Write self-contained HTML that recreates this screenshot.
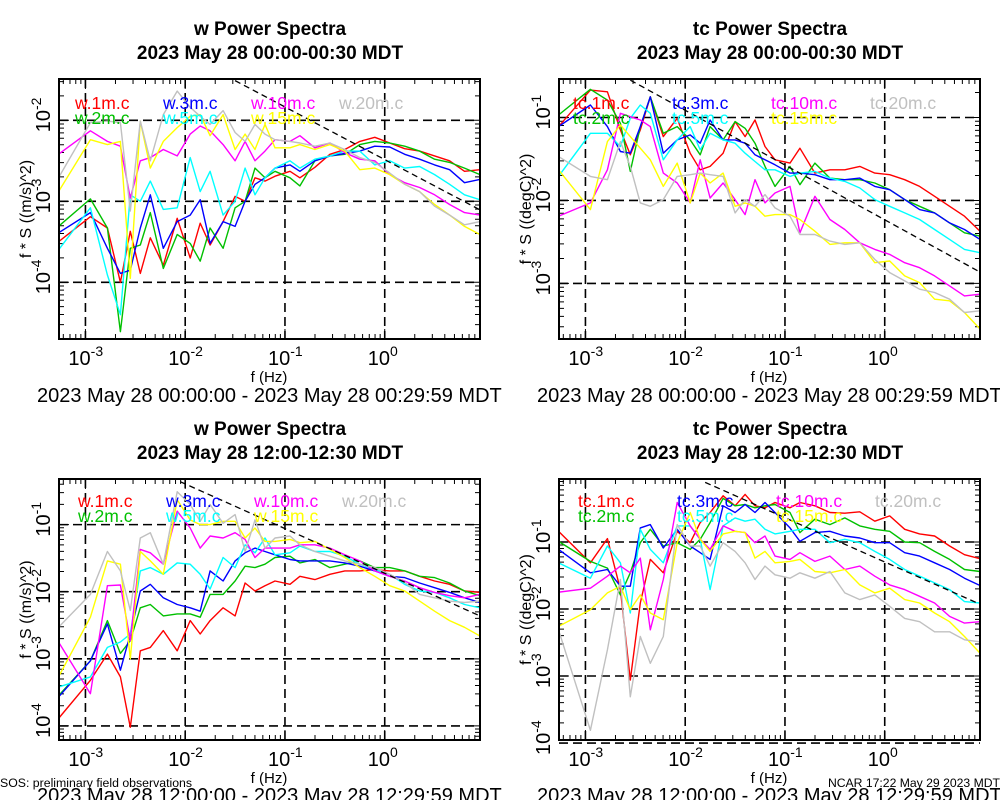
<!DOCTYPE html>
<html><head><meta charset="utf-8">
<style>
html,body{margin:0;padding:0;background:#fff;}
svg{display:block;font-family:"Liberation Sans",Arial,sans-serif;}
</style></head>
<body>
<svg id="fig" width="1000" height="800" viewBox="0 0 1000 800" xmlns="http://www.w3.org/2000/svg"></svg>
<script>
// shared frequency grid (log10 Hz)
const freqLog = [-3.27,-2.95,-2.78,-2.65,-2.55,-2.45,-2.35,-2.22,-2.08,-1.95,-1.85,-1.75,-1.62,-1.5,-1.4,-1.3,-1.2,-1.1,-0.95,-0.85,-0.7,-0.55,-0.4,-0.25,-0.1,0.05,0.2,0.35,0.5,0.65,0.8,0.955];
const seriesColors = ["#ff0000","#00c000","#0000ff","#00ffff","#ff00ff","#ffff00","#c0c0c0"];
const wNames = ["w.1m.c","w.2m.c","w.3m.c","w.5m.c","w.10m.c","w.15m.c","w.20m.c"];
const tcNames = ["tc.1m.c","tc.2m.c","tc.3m.c","tc.5m.c","tc.10m.c","tc.15m.c","tc.20m.c"];
const xTickExps = [-3,-2,-1,0];

// Panel 1: w 00:00 (log10 of f*S)
const p1_w1 = [-3.50,-3.19,-3.33,-4.0,-3.37,-3.89,-3.45,-3.79,-3.21,-3.70,-3.27,-3.54,-3.25,-2.94,-3.0,-2.71,-2.75,-2.69,-2.63,-2.71,-2.58,-2.42,-2.36,-2.26,-2.21,-2.28,-2.35,-2.38,-2.44,-2.50,-2.63,-2.61];
const p1_w2 = [-3.31,-2.97,-3.33,-4.61,-3.58,-3.54,-3.14,-3.83,-3.41,-3.52,-3.74,-3.33,-3.58,-3.08,-3.0,-2.59,-2.71,-2.63,-2.71,-2.81,-2.5,-2.44,-2.42,-2.30,-2.26,-2.28,-2.32,-2.38,-2.48,-2.52,-2.59,-2.67];
const p1_w3 = [-3.39,-3.14,-3.58,-3.89,-3.85,-3.33,-2.92,-3.58,-3.25,-3.17,-2.98,-3.52,-3.25,-3.31,-3.0,-2.79,-2.71,-2.59,-2.55,-2.63,-2.5,-2.44,-2.41,-2.38,-2.32,-2.33,-2.42,-2.48,-2.55,-2.61,-2.77,-2.73];
const p1_w5 = [-3.6,-3.08,-3.91,-4.40,-2.92,-3.0,-2.75,-3.10,-3.08,-2.46,-2.88,-2.63,-3.17,-3.0,-2.59,-2.92,-2.71,-2.59,-2.5,-2.59,-2.48,-2.44,-2.38,-2.38,-2.55,-2.5,-2.59,-2.57,-2.67,-2.79,-2.92,-2.98];
const p1_w10 = [-2.42,-2.13,-2.26,-2.32,-2.96,-2.5,-2.46,-2.36,-2.44,-2.17,-2.07,-2.13,-2.30,-2.5,-2.26,-2.5,-2.38,-2.24,-2.26,-2.19,-2.34,-2.28,-2.40,-2.48,-2.5,-2.67,-2.77,-2.83,-2.92,-3.04,-3.14,-3.17];
const p1_w15 = [-2.88,-2.24,-2.30,-2.26,-3.95,-2.01,-2.59,-2.26,-2.09,-1.95,-1.93,-2.19,-1.93,-2.36,-2.17,-2.36,-2.05,-2.34,-2.34,-2.30,-2.36,-2.30,-2.38,-2.61,-2.59,-2.67,-2.79,-2.88,-3.04,-3.17,-3.31,-3.41];
const p1_w20 = [-2.71,-2.03,-2.01,-2.03,-3.12,-2.01,-2.5,-1.93,-1.64,-1.84,-1.95,-2.05,-1.88,-2.15,-2.26,-2.05,-2.17,-2.24,-2.26,-2.28,-2.32,-2.28,-2.36,-2.46,-2.52,-2.65,-2.79,-2.88,-3.06,-3.17,-3.29,-3.25];

// Panel 2: tc 00:00
const p2_tc1 = [-1.11,-0.67,-0.69,-1.15,-1.45,-1.15,-0.75,-1.23,-1.01,-1.43,-1.63,-1.59,-1.43,-1.05,-1.23,-1.03,-1.35,-1.51,-1.55,-1.37,-1.67,-1.63,-1.63,-1.59,-1.67,-1.69,-1.75,-1.83,-1.95,-2.07,-2.19,-2.37];
const p2_tc2 = [-0.97,-0.66,-0.79,-1.07,-1.65,-1.11,-0.75,-1.19,-1.11,-1.27,-1.45,-1.11,-1.27,-1.05,-1.13,-1.31,-1.59,-1.83,-1.59,-1.81,-1.55,-1.73,-1.75,-1.75,-1.79,-1.87,-1.99,-2.07,-2.15,-2.27,-2.39,-2.43];
const p2_tc3 = [-1.11,-0.85,-1.11,-1.41,-1.43,-1.11,-0.75,-1.43,-1.27,-1.21,-1.31,-1.03,-1.27,-1.27,-1.31,-1.45,-1.51,-1.57,-1.67,-1.67,-1.69,-1.75,-1.75,-1.73,-1.83,-1.87,-1.99,-2.11,-2.15,-2.27,-2.35,-2.47];
const p2_tc5 = [-1.71,-1.19,-1.19,-1.35,-1.01,-0.85,-0.95,-1.51,-1.27,-1.11,-1.39,-1.19,-1.27,-1.31,-1.43,-1.53,-1.63,-1.63,-1.71,-1.67,-1.65,-1.73,-1.77,-1.85,-1.99,-2.07,-2.15,-2.23,-2.35,-2.47,-2.59,-2.63];
const p2_tc10 = [-2.19,-2.03,-1.63,-0.95,-0.99,-1.03,-1.11,-1.67,-1.79,-2.03,-1.51,-1.97,-1.79,-1.99,-2.17,-1.75,-2.03,-1.91,-1.83,-2.39,-1.95,-2.23,-2.35,-2.51,-2.59,-2.65,-2.75,-2.81,-2.91,-3.03,-3.15,-3.13];
const p2_tc15 = [-1.63,-2.11,-1.29,-1.09,-1.23,-1.37,-1.51,-1.83,-1.55,-2.03,-1.67,-1.79,-1.67,-2.07,-2.03,-2.07,-2.19,-2.17,-2.17,-2.23,-2.37,-2.53,-2.51,-2.51,-2.75,-2.73,-2.91,-2.99,-3.19,-3.21,-3.35,-3.55];
const p2_tc20 = [-1.47,-1.71,-1.75,-1.29,-1.59,-2.03,-2.07,-1.99,-1.71,-1.69,-1.67,-1.69,-1.71,-2.15,-1.99,-2.07,-1.93,-2.09,-2.19,-2.41,-2.41,-2.49,-2.53,-2.51,-2.71,-2.87,-2.97,-3.07,-3.11,-3.19,-3.35,-3.33];

// Panel 3: w 12:00
const p3_w1 = [-3.89,-3.32,-2.93,-3.27,-4.02,-2.88,-2.83,-2.58,-2.88,-2.43,-2.63,-2.43,-2.24,-2.36,-1.87,-1.99,-1.91,-1.84,-1.89,-1.77,-1.82,-1.74,-1.69,-1.69,-1.67,-1.69,-1.69,-1.77,-1.84,-1.89,-1.99,-2.01];
const p3_w2 = [-3.55,-3.03,-2.43,-2.92,-2.73,-2.24,-2.19,-2.36,-2.33,-2.33,-2.38,-2.04,-2.04,-1.84,-1.62,-1.64,-1.59,-1.49,-1.47,-1.57,-1.52,-1.64,-1.59,-1.54,-1.64,-1.64,-1.69,-1.77,-1.79,-1.87,-1.99,-2.06];
const p3_w3 = [-3.57,-3.03,-2.48,-3.17,-2.63,-1.99,-1.89,-2.09,-2.19,-2.24,-2.29,-1.69,-1.84,-1.54,-1.42,-1.35,-1.40,-1.45,-1.52,-1.54,-1.54,-1.54,-1.57,-1.62,-1.69,-1.77,-1.79,-1.87,-1.94,-2.01,-2.09,-2.16];
const p3_w5 = [-3.42,-3.27,-2.83,-2.75,-2.63,-1.69,-1.64,-1.74,-1.57,-1.59,-1.74,-1.96,-1.49,-1.64,-1.30,-1.42,-1.20,-1.45,-1.42,-1.32,-1.40,-1.40,-1.47,-1.59,-1.67,-1.74,-1.89,-1.99,-2.01,-2.09,-2.19,-2.24];
const p3_w10 = [-2.75,-3.52,-1.91,-1.90,-2.73,-1.37,-1.42,-1.59,-0.80,-1.05,-1.35,-1.17,-1.20,-1.12,-1.22,-1.49,-1.35,-1.35,-1.35,-1.30,-1.30,-1.35,-1.45,-1.54,-1.69,-1.77,-1.84,-1.94,-2.01,-2.06,-2.09,-2.04];
const p3_w15 = [-3.27,-2.38,-1.54,-1.59,-3.00,-1.40,-1.54,-1.74,-0.63,-0.93,-1.0,-1.0,-0.95,-0.95,-1.20,-1.05,-1.25,-1.25,-1.22,-1.27,-1.25,-1.37,-1.49,-1.64,-1.77,-1.91,-1.99,-2.14,-2.29,-2.43,-2.53,-2.66];
const p3_w20 = [-2.53,-2.04,-1.40,-1.69,-2.28,-1.20,-1.12,-1.59,-0.51,-0.70,-0.95,-0.70,-0.98,-0.85,-1.40,-0.93,-1.35,-1.20,-1.17,-1.30,-1.40,-1.47,-1.54,-1.59,-1.64,-1.74,-1.86,-2.04,-2.09,-2.14,-2.16,-2.14];

// Panel 4: tc 12:00
const p4_tc1 = [-0.84,-1.31,-0.95,-1.71,-3.06,-1.91,-1.26,-1.46,-0.84,-1.01,-0.71,-0.56,-0.31,-0.46,-0.29,-0.46,-0.49,-0.41,-0.49,-0.41,-0.46,-0.56,-0.57,-0.55,-0.69,-0.61,-0.81,-0.88,-0.91,-1.06,-1.19,-1.25];
const p4_tc2 = [-0.99,-1.29,-1.39,-1.79,-1.46,-1.01,-0.81,-1.06,-1.01,-1.11,-0.96,-0.71,-0.35,-0.46,-0.44,-0.49,-0.46,-0.44,-0.56,-0.86,-0.66,-0.74,-0.64,-0.76,-0.81,-0.84,-1.0,-1.01,-1.14,-1.26,-1.41,-1.44];
const p4_tc3 = [-1.11,-1.46,-1.41,-1.66,-1.66,-0.79,-0.74,-1.09,-0.81,-1.06,-1.16,-1.26,-0.46,-0.56,-0.44,-0.56,-0.41,-0.56,-0.79,-0.99,-0.86,-0.84,-0.91,-0.94,-1.01,-1.01,-1.16,-1.21,-1.31,-1.41,-1.54,-1.65];
const p4_tc5 = [-1.31,-1.54,-1.06,-1.31,-2.06,-0.81,-1.11,-1.31,-0.76,-0.76,-0.96,-1.71,-0.76,-0.64,-0.69,-0.66,-0.81,-0.88,-0.84,-0.81,-0.81,-1.01,-0.96,-1.01,-1.14,-1.26,-1.41,-1.51,-1.61,-1.71,-1.89,-1.91];
const p4_tc10 = [-1.75,-1.69,-1.51,-1.36,-1.46,-1.24,-2.31,-1.56,-0.41,-0.76,-0.96,-1.11,-0.76,-0.84,-0.86,-1.01,-0.91,-1.21,-1.26,-1.16,-1.29,-1.21,-1.41,-1.36,-1.51,-1.64,-1.71,-1.81,-1.91,-2.11,-2.21,-2.19];
const p4_tc15 = [-2.26,-2.01,-1.76,-1.66,-2.01,-1.79,-2.06,-2.16,-1.01,-0.56,-0.96,-1.14,-0.88,-0.84,-0.86,-1.24,-1.14,-1.31,-1.29,-1.26,-1.44,-1.46,-1.41,-1.64,-1.76,-1.69,-1.86,-1.91,-2.06,-2.19,-2.41,-2.66];
const p4_tc20 = [-2.31,-3.81,-2.61,-1.56,-3.31,-2.41,-2.81,-2.41,-0.74,-1.06,-1.06,-1.36,-1.01,-1.14,-1.31,-1.56,-1.36,-1.49,-1.54,-1.46,-1.54,-1.44,-1.76,-1.86,-1.79,-1.96,-2.14,-2.19,-2.34,-2.34,-2.46,-2.49];

// reference slope lines: [logf start, logS at start, slope]
const p1_ref = [-1.5,-1.51,-0.65];
const p2_ref = [-2.55,-0.55,-0.66];
const p3_ref = [-2.05,-0.36,-0.666];
const p4_ref = [-1.8,-0.11,-0.66];

const NS = "http://www.w3.org/2000/svg";
const svg = document.getElementById("fig");
function mk(tag, attrs, parent){
  const e = document.createElementNS(NS, tag);
  for (const k in attrs) e.setAttribute(k, attrs[k]);
  (parent||svg).appendChild(e);
  return e;
}

const panels = [
  {id:"w-night", ox:0, title:"w Power Spectra", sub:"2023 May 28 00:00-00:30 MDT", ylab:"f * S ((m/s)^2)", names:wNames, series:[p1_w1,p1_w2,p1_w3,p1_w5,p1_w10,p1_w15,p1_w20], ref:p1_ref,
   top:79, bot:339, yTop:-1.49, yBot:-4.70, yTicks:[-2,-3,-4], legX:[75,163,251,339], legY:[109,124], tTop:0, range:"2023 May 28 00:00:00 - 2023 May 28 00:29:59 MDT"},
  {id:"tc-night", ox:500, title:"tc Power Spectra", sub:"2023 May 28 00:00-00:30 MDT", ylab:"f * S ((degC)^2)", names:tcNames, series:[p2_tc1,p2_tc2,p2_tc3,p2_tc5,p2_tc10,p2_tc15,p2_tc20], ref:p2_ref,
   top:79, bot:339, yTop:-0.536, yBot:-3.67, yTicks:[-1,-2,-3], legX:[573,672,771,870], legY:[109,124], tTop:0, range:"2023 May 28 00:00:00 - 2023 May 28 00:29:59 MDT"},
  {id:"w-day", ox:0, title:"w Power Spectra", sub:"2023 May 28 12:00-12:30 MDT", ylab:"f * S ((m/s)^2)", names:wNames, series:[p3_w1,p3_w2,p3_w3,p3_w5,p3_w10,p3_w15,p3_w20], ref:p3_ref,
   top:479, bot:740, yTop:-0.32, yBot:-4.21, yTicks:[-1,-2,-3,-4], legX:[78,166,254,342], legY:[507,522], tTop:400, range:"2023 May 28 12:00:00 - 2023 May 28 12:29:59 MDT"},
  {id:"tc-day", ox:500, title:"tc Power Spectra", sub:"2023 May 28 12:00-12:30 MDT", ylab:"f * S ((degC)^2)", names:tcNames, series:[p4_tc1,p4_tc2,p4_tc3,p4_tc5,p4_tc10,p4_tc15,p4_tc20], ref:p4_ref,
   top:479, bot:740, yTop:-0.06, yBot:-3.955, yTicks:[-1,-2,-3,-4], legX:[578,677,776,875], legY:[507,522], tTop:400, range:"2023 May 28 12:00:00 - 2023 May 28 12:29:59 MDT"}
];

const X0LOG = -3.265, X1LOG = 0.955;

panels.forEach(p => {
  const L = p.ox + 59, R = p.ox + 480, T = p.top, B = p.bot;
  const xs = lf => L + (lf - X0LOG) / (X1LOG - X0LOG) * (R - L);
  const ys = ly => T + (p.yTop - ly) / (p.yTop - p.yBot) * (B - T);
  const g = mk("g", {});
  
  
  const cx = p.ox + 270;

  const t1 = mk("text", {x:cx, y:p.tTop+35, "text-anchor":"middle", "font-size":"19", "font-weight":"bold"}, g);
  t1.textContent = p.title;
  
  
  const t2 = mk("text", {x:cx, y:p.tTop+59, "text-anchor":"middle", "font-size":"19", "font-weight":"bold"}, g);
  t2.textContent = p.sub;
  
  

  const clipId = "clip-" + p.id;
  const cp = mk("clipPath", {id:clipId}, g);
  mk("rect", {x:L, y:T, width:R-L, height:B-T}, cp);

  // grid
  xTickExps.forEach(e => {
    const x = xs(e);
    const gl = mk("line", {x1:x, x2:x, y1:T, y2:B, stroke:"#000", "stroke-width":"1.6", "stroke-dasharray":"9,5"}, g);
    
    
  });
  p.yTicks.forEach(e => {
    const y = ys(e);
    const gl = mk("line", {x1:L, x2:R, y1:y, y2:y, stroke:"#000", "stroke-width":"1.6", "stroke-dasharray":"9,5"}, g);
    
    
  });

  // minor ticks
  let tk = "";
  for (let d = -4; d <= 1; d++) for (let m = 1; m <= 9; m++) {
    const lf = d + Math.log10(m);
    if (lf < X0LOG || lf > X1LOG) continue;
    const x = xs(lf), len = m === 1 ? 10 : 5;
    tk += `M${x},${B}v${-len}M${x},${T}v${len}`;
  }
  for (let d = -5; d <= 0; d++) for (let m = 1; m <= 9; m++) {
    const lf = d + Math.log10(m);
    if (lf > p.yTop || lf < p.yBot) continue;
    const y = ys(lf), len = m === 1 ? 10 : 5;
    tk += `M${L},${y}h${len}M${R},${y}h${-len}`;
  }
  const ticks = mk("path", {d:tk, stroke:"#000", "stroke-width":"1", fill:"none"}, g);
  
  

  // series
  p.series.forEach((vals, i) => {
    const d = vals.map((v, k) => (k ? "L" : "M") + xs(freqLog[k]).toFixed(1) + "," + ys(v).toFixed(1)).join("");
    const pl = mk("path", {d:d, stroke:seriesColors[i], "stroke-width":"1.4", fill:"none", "clip-path":`url(#${clipId})`, "stroke-linejoin":"round"}, g);
    
    
  });

  // reference line
  const r = p.ref;
  const rl = mk("line", {x1:xs(r[0]), y1:ys(r[1]), x2:xs(X1LOG), y2:ys(r[1] + r[2]*(X1LOG - r[0])), stroke:"#000", "stroke-width":"1.3", "stroke-dasharray":"6,4", "clip-path":`url(#${clipId})`}, g);
  
  

  // frame
  const fr = mk("rect", {x:L, y:T, width:R-L, height:B-T, fill:"none", stroke:"#000", "stroke-width":"2"}, g);
  
  

  // legend
  p.names.forEach((n, i) => {
    const col = i === 6 ? 3 : Math.floor(i / 2);
    const row = i === 6 ? 0 : i % 2;
    const lt = mk("text", {x:p.legX[col], y:p.legY[row], "font-size":"17.5", fill:seriesColors[i]}, g);
    lt.textContent = n;
    
    
  });

  // x tick labels
  xTickExps.forEach(e => {
    const t = mk("text", {x:xs(e) - 17, y:B + 26, "font-size":"20"}, g);
    t.textContent = "10";
    const s = mk("tspan", {dy:"-9", "font-size":"14"}, t);
    s.textContent = String(e);
    
    
  });
  // y tick labels (rotated)
  p.yTicks.forEach(e => {
    const y = ys(e) + 12;
    const t = mk("text", {x:0, y:0, "font-size":"20", transform:`translate(${p.ox+50},${y}) rotate(-90)`}, g);
    t.textContent = "10";
    const s = mk("tspan", {dy:"-9", "font-size":"14"}, t);
    s.textContent = String(e);
    
    
  });

  const xl = mk("text", {x:p.ox+269, y:B+43, "text-anchor":"middle", "font-size":"15"}, g);
  xl.textContent = "f (Hz)";
  
  
  const yl = mk("text", {x:0, y:0, "text-anchor":"middle", "font-size":"16", transform:`translate(${p.ox+31},${(T+B)/2}) rotate(-90)`}, g);
  yl.textContent = p.ylab;
  
  

  const rg = mk("text", {x:p.ox+37, y:p.tTop+402, "font-size":"20"}, g);
  rg.textContent = p.range;
  
  
});

const f1 = mk("text", {x:0, y:787, "font-size":"12.3"});
f1.textContent = "SOS: preliminary field observations";


const f2 = mk("text", {x:1000, y:787, "font-size":"12.2", "text-anchor":"end"});
f2.textContent = "NCAR 17:22 May 29 2023 MDT";


</script>
</body></html>
